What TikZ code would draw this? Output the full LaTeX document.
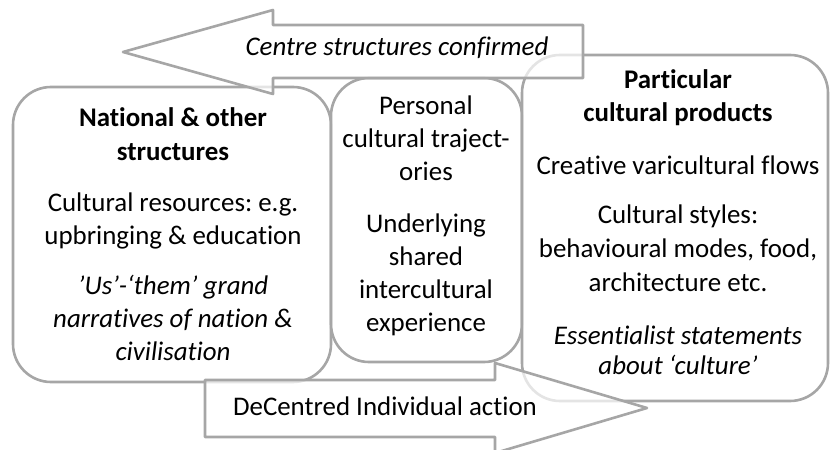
\documentclass[tikz,border=0pt]{standalone}
\usepackage{fontspec}
\setmainfont{Carlito}[Ligatures=NoCommon]
\frenchspacing
\begin{document}
\begin{tikzpicture}[x=1bp,y=-1bp,
  shapeline/.style={draw=black!35,line width=2.6bp,fill=white,fill opacity=0.7,line join=round},
  boxshape/.style={shapeline,rounded corners=38bp},
  para/.style={align=center,inner sep=0pt,font=\fontsize{27}{33}\selectfont,text=black}]
\useasboundingbox (0,0) rectangle (830,450);
% boxes
\draw[boxshape] (13,87) rectangle (331,382);
\draw[boxshape] (331,78) rectangle (522,362);
\draw[boxshape] (522,55) rectangle (828,401);
% arrows
\draw[shapeline] (123,52) -- (273,10) -- (273,25) -- (583,25) -- (583,78) -- (273,78) -- (273,94) -- cycle;
\draw[shapeline] (205,380) -- (495,380) -- (495,363) -- (647,408) -- (495,453) -- (495,437) -- (205,437) -- cycle;
% arrow texts
\node[para,font=\fontsize{27}{33}\selectfont\itshape] (top) at (397,48) {Centre structures confirmed};
\node[para] (bot) at (385,406) {DeCentred Individual action};
% left box
\node[para,font=\fontsize{27}{34}\selectfont\bfseries] (l1) at (173,134) {National \& other\\structures};
\node[para] (l2) at (173,221) {Cultural resources: e.g.\\upbringing \& education};
\node[para,font=\fontsize{27}{33}\selectfont\itshape] (l3) at (173,318) {’Us’-‘them’ grand\\narratives of nation \&\\civilisation};
% middle box
\node[para] (m1) at (426,138) {Personal\\cultural traject-\\ories};
\node[para] (m2) at (426,275) {Underlying\\shared\\intercultural\\experience};
% right box
\node[para,font=\fontsize{27}{33}\selectfont\bfseries] (r1) at (678,98) {Particular\\cultural products};
\node[para] (r2) at (678,165) {Creative varicultural flows};
\node[para,font=\fontsize{27}{34}\selectfont] (r3) at (678,248) {Cultural styles:\\behavioural modes, food,\\architecture etc.};
\node[para,font=\fontsize{27}{30}\selectfont\itshape] (r4) at (678,350) {Essentialist statements\\about ‘culture’};
\end{tikzpicture}
\end{document}
